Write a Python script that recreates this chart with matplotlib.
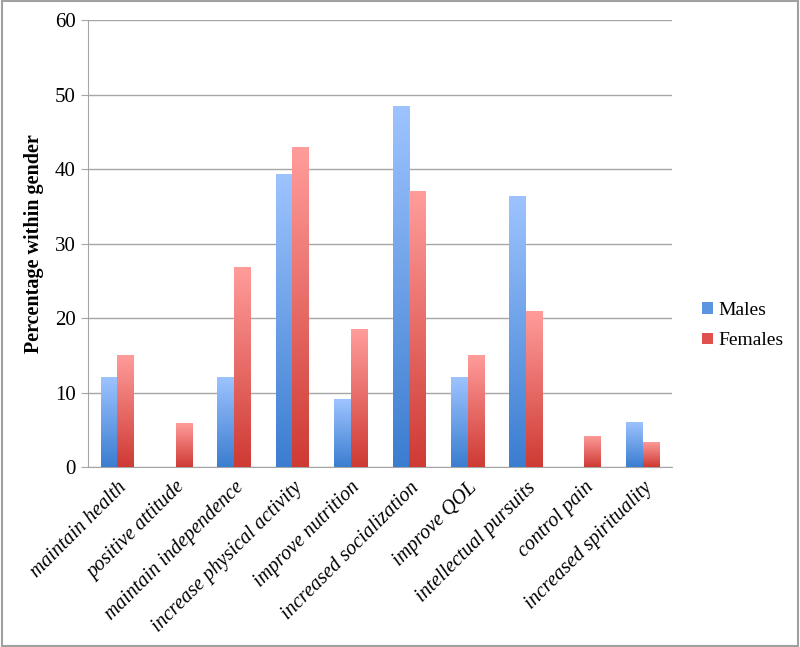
import numpy as np
import matplotlib
matplotlib.use("Agg")
import matplotlib.pyplot as plt
from matplotlib.colors import LinearSegmentedColormap
from matplotlib.patches import Rectangle, Patch

categories = ["maintain health", "positive attitude", "maintain independence",
              "increase physical activity", "improve nutrition", "increased socialization",
              "improve QOL", "intellectual pursuits", "control pain", "increased spirituality"]
males = [12.1, 0, 12.1, 39.4, 9.1, 48.5, 12.1, 36.4, 0, 6.1]
females = [15.1, 5.9, 26.9, 42.9, 18.5, 37.0, 15.1, 21.0, 4.2, 3.4]
yticks = [0, 10, 20, 30, 40, 50, 60]

plt.rcParams['font.family'] = ['Liberation Serif', 'DejaVu Serif']

fig = plt.figure(figsize=(8, 6.47), dpi=100)
ax = fig.add_axes([0.11, 0.278, 0.73, 0.691])

blue_cmap = LinearSegmentedColormap.from_list("b", ["#3b7dd0", "#9ec4ff"])
red_cmap = LinearSegmentedColormap.from_list("r", ["#cf3a34", "#ff9d9b"])

x = np.arange(len(categories))
w = 0.285
grad = np.linspace(0, 1, 256).reshape(-1, 1)

def gbar(xc, h, cmap):
    if h <= 0:
        return
    im = ax.imshow(grad, extent=(xc - w / 2, xc + w / 2, 0, h), origin="lower",
                   cmap=cmap, aspect="auto", zorder=3)
    r = Rectangle((xc - w / 2, 0), w, h, transform=ax.transData, facecolor="none",
                  edgecolor="none")
    ax.add_patch(r)
    im.set_clip_path(r)

for i in range(len(categories)):
    gbar(x[i] - w / 2, males[i], blue_cmap)
    gbar(x[i] + w / 2, females[i], red_cmap)

ax.set_xlim(-0.5, len(categories) - 0.5)
ax.set_ylim(0, 60)
ax.set_yticks(yticks)
ax.set_yticklabels([str(v) for v in yticks], fontsize=15)
ax.yaxis.grid(True, color="#a6a6a6", linewidth=1.0, zorder=0)
ax.set_axisbelow(True)
ax.set_xticks(x)
ax.set_xticklabels(categories, rotation=45, ha="right", rotation_mode="anchor",
                   fontsize=14.5, style="italic")
ax.tick_params(axis="x", length=0, pad=8)
ax.tick_params(axis="y", length=5, color="#a6a6a6", pad=4)
for s in ["top", "right"]:
    ax.spines[s].set_visible(False)
for s in ["left", "bottom"]:
    ax.spines[s].set_color("#a6a6a6")
ax.set_ylabel("Percentage within gender", fontsize=14.5, fontweight="bold", labelpad=8)

handles = [Patch(facecolor="#5b95e0", label="Males"),
           Patch(facecolor="#e0514d", label="Females")]
fig.legend(handles=handles, loc="center left", bbox_to_anchor=(0.856, 0.497),
           frameon=False, fontsize=14, handlelength=0.55, handleheight=0.55,
           handletextpad=0.3, labelspacing=0.7)

border = Rectangle((0.002, 0.002), 0.996, 0.996, transform=fig.transFigure,
                   fill=False, edgecolor="#a0a0a0", linewidth=1.5)
fig.patches.append(border)

fig.savefig("out.png", dpi=100)
